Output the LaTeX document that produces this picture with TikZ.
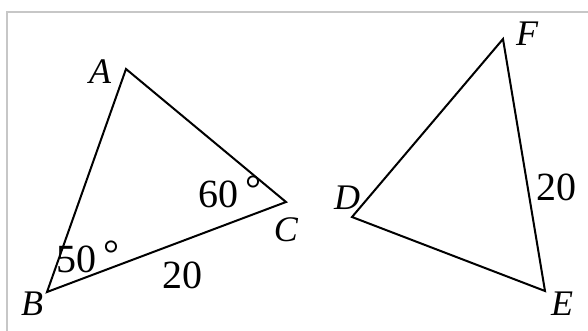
\documentclass[tikz,border=0pt]{standalone}
\usepackage{fontspec}
\setmainfont{Liberation Serif}

\begin{document}
\begin{tikzpicture}[
    x=0.5pt, y=-0.5pt,
    edge/.style={line width=1pt, black, line join=miter},
    vlabel/.style={font=\fontsize{18}{21}\selectfont\itshape, inner sep=0pt},
    mlabel/.style={font=\fontsize{20}{23}\selectfont, inner sep=0pt}
]
\useasboundingbox (0,0) rectangle (588,331);
\draw[black!22, line width=0.6pt] (7,331) -- (7,12) -- (588,12);

% Dreieck ABC
\coordinate (A) at (126,69);
\coordinate (B) at (47,292);
\coordinate (C) at (286,202);
\draw[edge] (A) -- (B) -- (C) -- cycle;

% Dreieck DEF
\coordinate (D) at (352,217);
\coordinate (E) at (545,291);
\coordinate (F) at (503,39);
\draw[edge] (D) -- (E) -- (F) -- cycle;

\node[vlabel] (lA) at (100,72) {A};
\node[vlabel] (lB) at (32,304) {B};
\node[vlabel] (lC) at (286,230) {C};
\node[vlabel] (lD) at (347,198) {D};
\node[vlabel] (lE) at (562,304) {E};
\node[vlabel] (lF) at (527,34) {F};

\node[mlabel] (angC) at (230,192) {60\,\raisebox{0.25ex}{°}};
\node[mlabel] (angB) at (88,257) {50\,\raisebox{0.25ex}{°}};
\node[mlabel] (sBC) at (182,275) {20};
\node[mlabel] (sEF) at (556,187) {20};
\end{tikzpicture}
\end{document}
